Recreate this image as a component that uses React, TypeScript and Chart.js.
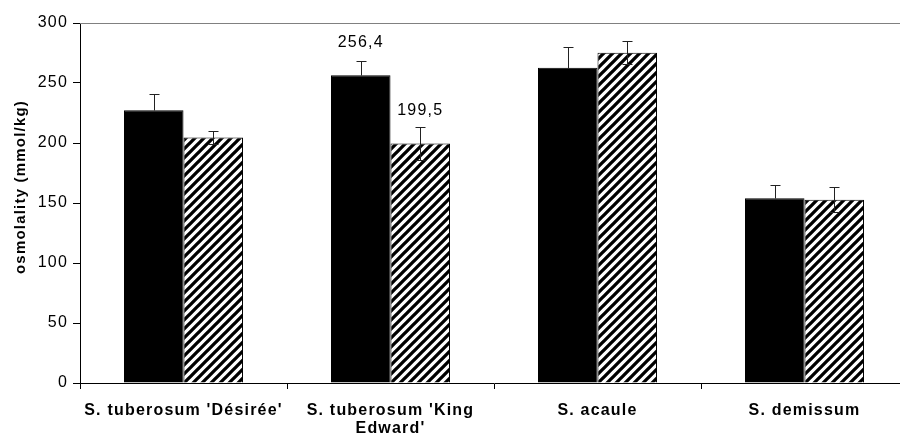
import { useEffect, useRef } from "react";
import { Chart, registerables } from "chart.js";

Chart.register(...registerables);

// Cultivars / species on the x axis (arrays become multi-line labels)
const categories: string[][] = [
  ["S. tuberosum 'Désirée'"],
  ["S. tuberosum 'King", "Edward'"],
  ["S. acaule"],
  ["S. demissum"],
];

// Solid black series: mean osmolality and error
const solidValues = [227.3, 256.4, 262.7, 154];
const solidErrors = [13.4, 11.8, 17.2, 11];

// Hatched series: mean osmolality and error
const hatchedValues = [204.5, 199.5, 275.2, 152.8];
const hatchedErrors = [5.5, 13.6, 9.6, 10.3];

// Bars that carry a printed value, per series
const solidLabelled = [1];
const hatchedLabelled = [1];

// Value axis
const yMin = 0;
const yMax = 300;
const yStep = 50;
const yTitle = "osmolality (mmol/kg)";

const FONT = "'Liberation Sans', Arial, Helvetica, sans-serif";
const SPACING = "1.2px";

function makeHatch(): CanvasPattern | string {
  const n = 9;
  const c = document.createElement("canvas");
  c.width = n;
  c.height = n;
  const g = c.getContext("2d");
  if (!g) return "#888";
  g.fillStyle = "#fff";
  g.fillRect(0, 0, n, n);
  g.strokeStyle = "#000";
  g.lineWidth = 3.3;
  g.beginPath();
  g.moveTo(-2, n + 2);
  g.lineTo(n + 2, -2);
  g.moveTo(-3, 3);
  g.lineTo(3, -3);
  g.moveTo(n - 3, n + 3);
  g.lineTo(n + 3, n - 3);
  g.stroke();
  return g.createPattern(c, "repeat") ?? "#888";
}

const fmt = (v: number) => v.toFixed(1).replace(".", ",");

export default function App() {
  const ref = useRef<HTMLCanvasElement | null>(null);

  useEffect(() => {
    const canvas = ref.current;
    if (!canvas) return;

    const errors = [solidErrors, hatchedErrors];
    const labelled = [solidLabelled, hatchedLabelled];
    // the lower whisker disappears into a solid black bar, so only the hatched series shows it
    const showLower = [false, true];

    const spacingPlugin = {
      id: "spacing",
      beforeUpdate(chart: any) {
        chart.ctx.letterSpacing = SPACING;
      },
      beforeDraw(chart: any) {
        chart.ctx.letterSpacing = SPACING;
      },
    };

    const framePlugin = {
      id: "frame",
      beforeDatasetsDraw(chart: any) {
        const { ctx, chartArea } = chart;
        ctx.save();
        ctx.strokeStyle = "#808080";
        ctx.lineWidth = 1;
        ctx.beginPath();
        const t = Math.round(chartArea.top) + 0.5;
        ctx.moveTo(chartArea.left, t);
        ctx.lineTo(chartArea.right, t);
        const r = Math.round(chartArea.right) - 0.5;
        ctx.moveTo(r, chartArea.top);
        ctx.lineTo(r, chartArea.bottom);
        ctx.stroke();
        ctx.restore();
      },
    };

    const errorPlugin = {
      id: "errorBars",
      afterDatasetsDraw(chart: any) {
        const { ctx } = chart;
        const y = chart.scales.y;
        ctx.save();
        ctx.strokeStyle = "#222";
        ctx.lineWidth = 1;
        chart.data.datasets.forEach((ds: any, di: number) => {
          const meta = chart.getDatasetMeta(di);
          meta.data.forEach((el: any, i: number) => {
            const v = ds.data[i];
            const e = errors[di][i];
            const x = Math.round(el.x) + 0.5;
            const top = Math.round(y.getPixelForValue(v + e)) + 0.5;
            const mid = Math.round(y.getPixelForValue(v)) + 0.5;
            const bot = Math.round(y.getPixelForValue(v - e)) + 0.5;
            ctx.beginPath();
            ctx.moveTo(x, top);
            ctx.lineTo(x, showLower[di] ? bot : mid);
            ctx.moveTo(x - 5, top);
            ctx.lineTo(x + 5, top);
            if (showLower[di]) {
              ctx.moveTo(x - 5, bot);
              ctx.lineTo(x + 5, bot);
            }
            ctx.stroke();
          });
        });
        ctx.restore();
      },
    };

    const valuePlugin = {
      id: "values",
      afterDatasetsDraw(chart: any) {
        const { ctx } = chart;
        ctx.save();
        ctx.letterSpacing = SPACING;
        ctx.fillStyle = "#000";
        ctx.font = `16px ${FONT}`;
        ctx.textAlign = "center";
        ctx.textBaseline = "middle";
        chart.data.datasets.forEach((ds: any, di: number) => {
          const meta = chart.getDatasetMeta(di);
          labelled[di].forEach((i: number) => {
            const el = meta.data[i];
            ctx.fillText(fmt(ds.data[i]), el.x, el.y - 33);
          });
        });
        ctx.restore();
      },
    };

    const titlePlugin = {
      id: "yTitle",
      afterDraw(chart: any) {
        const { ctx } = chart;
        ctx.save();
        ctx.letterSpacing = "1.2px";
        ctx.fillStyle = "#000";
        ctx.font = `bold 15px ${FONT}`;
        ctx.textAlign = "center";
        ctx.textBaseline = "middle";
        ctx.translate(21, 187);
        ctx.rotate(-Math.PI / 2);
        ctx.fillText(yTitle, 0, 0);
        ctx.restore();
      },
    };

    const chart = new Chart(canvas, {
      type: "bar",
      data: {
        labels: categories,
        datasets: [
          {
            data: solidValues,
            backgroundColor: "#000",
            borderColor: "#000",
            borderWidth: 1,
            categoryPercentage: 0.575,
            barPercentage: 1,
          },
          {
            data: hatchedValues,
            backgroundColor: makeHatch() as any,
            borderColor: "#000",
            borderWidth: 1,
            categoryPercentage: 0.575,
            barPercentage: 1,
          },
        ],
      },
      options: {
        animation: false,
        responsive: false,
        devicePixelRatio: 1,
        layout: { padding: { top: 23, right: 22, left: 0, bottom: 0 } },
        plugins: {
          legend: { display: false },
          tooltip: { enabled: false },
        },
        scales: {
          x: {
            grid: {
              offset: true,
              drawOnChartArea: false,
              drawTicks: true,
              tickLength: 6,
              color: "#000",
            },
            border: { color: "#000", width: 1 },
            ticks: {
              color: "#000",
              font: { family: FONT, size: 16, weight: "bold", lineHeight: 1.15 },
              padding: 12,
              maxRotation: 0,
              minRotation: 0,
              autoSkip: false,
            },
            afterFit(scale: any) {
              scale.height = 55;
            },
          },
          y: {
            min: yMin,
            max: yMax,
            ticks: {
              stepSize: yStep,
              color: "#000",
              font: { family: FONT, size: 16 },
              padding: 5,
            },
            grid: {
              drawOnChartArea: false,
              drawTicks: true,
              tickLength: 7,
              color: "#000",
            },
            border: { color: "#000", width: 1 },
            afterFit(scale: any) {
              scale.width = 80;
            },
          },
        },
      } as any,
      plugins: [spacingPlugin, framePlugin, errorPlugin, valuePlugin, titlePlugin],
    });

    return () => chart.destroy();
  }, []);

  return (
    <div
      style={{
        position: "fixed",
        left: 0,
        top: 0,
        width: 900,
        height: 438,
        overflow: "hidden",
        background: "#fff",
      }}
    >
      <canvas
        ref={ref}
        width={930}
        height={438}
        style={{ display: "block", width: 930, height: 438 }}
      />
    </div>
  );
}
